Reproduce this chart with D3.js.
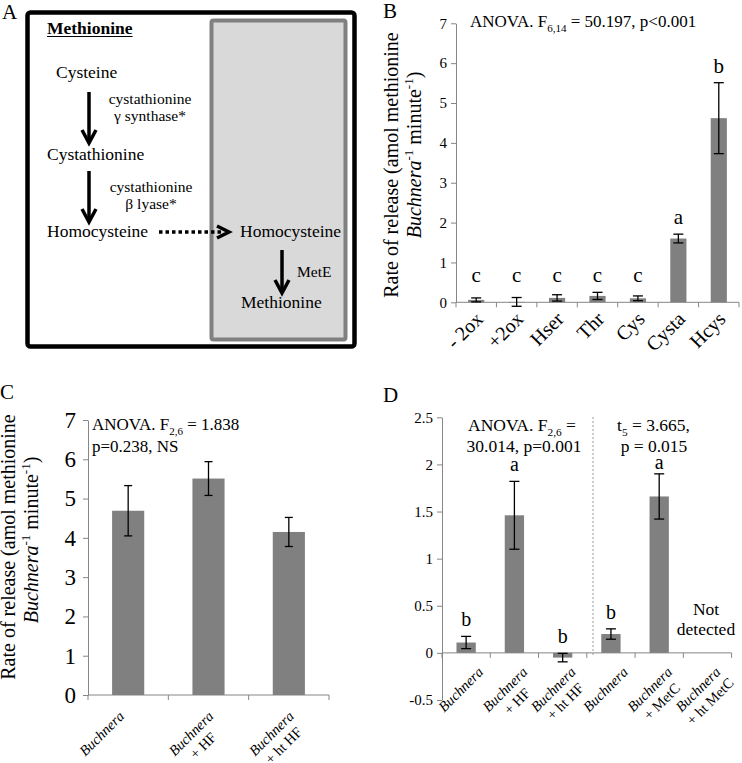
<!DOCTYPE html>
<html><head><meta charset="utf-8">
<script src="https://cdn.jsdelivr.net/npm/d3@7"></script>
<style>
html,body{margin:0;padding:0;background:#fff;}
svg{display:block;}
text{font-family:"Liberation Serif","Times New Roman",serif;}
</style></head>
<body>
<svg id="fig" width="742" height="763"></svg>
<script>
// ---------- DATA ----------
const catsB = [["- 2ox"], ["+2ox"], ["Hser"], ["Thr"], ["Cys"], ["Cysta"], ["Hcys"]];
const valsB = [0.06, 0.01, 0.11, 0.16, 0.10, 1.60, 4.62];
const errsB = [0.05, 0.11, 0.08, 0.09, 0.06, 0.11, 0.89];
const lettersB = ["c", "c", "c", "c", "c", "a", "b"];
const ticksB = [0, 1, 2, 3, 4, 5, 6, 7];

const catsC = [["Buchnera"], ["Buchnera", "+ HF"], ["Buchnera", "+ ht HF"]];
const valsC = [4.69, 5.51, 4.15];
const errsC = [0.64, 0.43, 0.37];
const ticksC = [0, 1, 2, 3, 4, 5, 6, 7];

const catsD = [["Buchnera"], ["Buchnera", "+ HF"], ["Buchnera", "+ ht HF"], ["Buchnera"], ["Buchnera", "+ MetC"], ["Buchnera", "+ ht MetC"]];
const valsD = [0.11, 1.46, -0.05, 0.20, 1.66, null];
const errsD = [0.065, 0.36, 0.045, 0.055, 0.24, null];
const lettersD = ["b", "a", "b", "b", "a", ""];
const ticksD = [-0.5, 0, 0.5, 1, 1.5, 2, 2.5];

// ---------- HELPERS ----------
const svg = d3.select("#fig");
svg.append("rect").attr("width", 742).attr("height", 763).attr("fill", "#fff");
const AX = "#868686", BAR = "#808080";

function rich(t, parts, fs) {
  let shift = 0;
  parts.forEach(p => {
    const ts = t.append("tspan").text(p.t);
    const target = p.sup ? -0.38 * fs : (p.sub ? 0.28 * fs : 0);
    ts.attr("dy", target - shift); shift = target;
    if (p.sup || p.sub) ts.attr("font-size", fs * 0.65);
    if (p.i) ts.attr("font-style", "italic");
  });
  return t;
}
function txt(x, y, s, fs, opts = {}) {
  const t = svg.append("text").attr("x", x).attr("y", y).attr("font-size", fs)
    .attr("fill", "#000").attr("text-anchor", opts.anchor || "start");
  if (opts.bold) t.attr("font-weight", "bold");
  if (typeof s === "string") t.text(s); else rich(t, s, fs);
  return t;
}

// ---------- PANEL A ----------
svg.append("rect").attr("x", 27.5).attr("y", 12.5).attr("width", 327).attr("height", 334)
  .attr("rx", 3).attr("fill", "none").attr("stroke", "#000").attr("stroke-width", 4.5);
svg.append("rect").attr("x", 211.5).attr("y", 20.5).attr("width", 134).attr("height", 319)
  .attr("rx", 2).attr("fill", "#d9d9d9").attr("stroke", "#808080").attr("stroke-width", 4);
txt(2, 19, "A", 21);
const met = txt(47, 34, "Methionine", 17.5, {bold: true});
const mw = met.node().getComputedTextLength();
svg.append("line").attr("x1", 47).attr("x2", 47 + mw).attr("y1", 36.5).attr("y2", 36.5)
  .attr("stroke", "#000").attr("stroke-width", 1.2);
txt(56, 78, "Cysteine", 17.5);
txt(150, 104, "cystathionine", 15.5, {anchor: "middle"});
txt(150, 121, "γ synthase*", 15.5, {anchor: "middle"});
txt(47, 160, "Cystathionine", 17.5);
txt(151, 192, "cystathionine", 15.5, {anchor: "middle"});
txt(151, 209, "β lyase*", 15.5, {anchor: "middle"});
txt(47, 237, "Homocysteine", 17.5);
txt(240, 237, "Homocysteine", 17.5);
txt(297, 277, "MetE", 15.5);
txt(241, 308, "Methionine", 17.5);

function downArrow(x, y1, y2) {
  svg.append("line").attr("x1", x).attr("x2", x).attr("y1", y1).attr("y2", y2 - 2)
    .attr("stroke", "#000").attr("stroke-width", 3.5);
  svg.append("path").attr("d", `M${x - 7},${y2 - 13}L${x},${y2}L${x + 7},${y2 - 13}`)
    .attr("fill", "none").attr("stroke", "#000").attr("stroke-width", 3.5);
}
downArrow(89, 92, 143);
downArrow(89, 171, 222);
downArrow(282, 250, 293);
svg.append("line").attr("x1", 159).attr("x2", 224).attr("y1", 232).attr("y2", 232)
  .attr("stroke", "#000").attr("stroke-width", 3.5).attr("stroke-dasharray", "3.5,3");
svg.append("path").attr("d", "M217,226L229,232L217,238")
  .attr("fill", "none").attr("stroke", "#000").attr("stroke-width", 3.5);

// ---------- GENERIC BAR PANEL ----------
function barPanel(c) {
  const n = c.cats.length;
  const g = svg.append("g");
  const x = d3.scaleBand().domain(d3.range(n)).range([c.x0, c.x1]).paddingInner(0).paddingOuter(0);
  const y = d3.scaleLinear().domain(c.domain).range([c.yb, c.yt]);
  const ya = g.append("g").attr("transform", `translate(${c.x0},0)`)
    .call(d3.axisLeft(y).tickValues(c.ticks).tickSize(5).tickSizeOuter(0).tickPadding(c.tickPad)
      .tickFormat(d => String(d)));
  ya.select(".domain").attr("stroke", AX);
  ya.selectAll(".tick line").attr("stroke", AX);
  ya.selectAll(".tick text").attr("font-size", c.tickFs).attr("fill", "#000");
  const y0 = y(0);
  g.append("line").attr("x1", c.x0).attr("x2", c.x1).attr("y1", y0).attr("y2", y0).attr("stroke", AX);
  g.selectAll(".xt").data(d3.range(n + 1)).join("line")
    .attr("x1", i => c.x0 + i * x.step()).attr("x2", i => c.x0 + i * x.step())
    .attr("y1", y0).attr("y2", y0 + 5).attr("stroke", AX);
  const bw = x.bandwidth() * 0.4;
  const idx = d3.range(n).filter(i => c.vals[i] != null);
  g.selectAll(".bar").data(idx).join("rect")
    .attr("x", i => x(i) + x.bandwidth() / 2 - bw / 2).attr("width", bw)
    .attr("y", i => Math.min(y(c.vals[i]), y0)).attr("height", i => Math.abs(y(c.vals[i]) - y0))
    .attr("fill", BAR);
  idx.forEach(i => {
    const cx = x(i) + x.bandwidth() / 2, v = c.vals[i], e = c.errs[i];
    const ep = g.append("g").attr("stroke", "#000").attr("stroke-width", 1.3);
    ep.append("line").attr("x1", cx).attr("x2", cx).attr("y1", y(v + e)).attr("y2", y(v - e));
    [v + e, v - e].forEach(w => ep.append("line").attr("x1", cx - c.cap / 2).attr("x2", cx + c.cap / 2)
      .attr("y1", y(w)).attr("y2", y(w)));
  });
  if (c.letters) {
    idx.forEach(i => {
      if (!c.letters[i]) return;
      let top = c.vals[i] + c.errs[i];
      if (c.groupLetters) idx.forEach(j => { if (c.letters[j] === c.letters[i]) top = Math.max(top, c.vals[j] + c.errs[j]); });
      let by = y(top) - c.letterGap;
      if (c.letterMinY != null) by = Math.max(by, c.letterMinY);
      g.append("text").attr("x", x(i) + x.bandwidth() / 2).attr("y", by)
        .attr("text-anchor", "middle").attr("font-size", c.letterFs).text(c.letters[i]);
    });
  }
  c.cats.forEach((lines, i) => {
    const cx = x(i) + x.bandwidth() / 2;
    const dx = lines.length > 1 ? c.lblDx2 : c.lblDx1;
    const lg = g.append("g").attr("transform", `translate(${cx + dx},${y0 + c.lblDy}) rotate(-45)`);
    const t1 = lg.append("text").attr("text-anchor", "end").attr("font-size", c.lblFs).text(lines[0]);
    if (c.italicFirst) t1.attr("font-style", "italic");
    if (lines.length > 1) {
      const w1 = t1.node().getComputedTextLength();
      lg.append("text").attr("x", -w1 / 2).attr("y", c.lblGap).attr("text-anchor", "middle")
        .attr("font-size", c.lblFs).text(lines[1]);
    }
  });
  return {x, y};
}

function yLabel(xa, ya, xb, yb, fs) {
  svg.append("text").attr("transform", `translate(${xa},${ya}) rotate(-90)`).attr("text-anchor", "middle")
    .attr("font-size", fs).text("Rate of release (amol methionine");
  const t = svg.append("text").attr("transform", `translate(${xb},${yb}) rotate(-90)`).attr("text-anchor", "middle")
    .attr("font-size", fs);
  rich(t, [{t: "Buchnera", i: true}, {t: "-1", sup: true}, {t: " minute"}, {t: "-1", sup: true}, {t: ")"}], fs);
}

// ---------- PANEL B ----------
txt(383, 18, "B", 21);
barPanel({cats: catsB, vals: valsB, errs: errsB, letters: lettersB, ticks: ticksB, groupLetters: true,
  x0: 456, x1: 739, yb: 302.3, yt: 23.3, domain: [0, 7], tickFs: 15, tickPad: 4, cap: 10,
  letterFs: 21, letterGap: 10, lblFs: 20, lblDx1: 8, lblDx2: 8, lblDy: 18, lblGap: 20, italicFirst: false});
yLabel(398, 165, 421, 155, 20);
txt(470, 27, [{t: "ANOVA. F"}, {t: "6,14", sub: true}, {t: " = 50.197, p<0.001"}], 17);

// ---------- PANEL C ----------
txt(0, 399, "C", 21);
barPanel({cats: catsC, vals: valsC, errs: errsC, ticks: ticksC,
  x0: 88, x1: 329, yb: 695, yt: 420, domain: [0, 7], tickFs: 23, tickPad: 7, cap: 8,
  lblFs: 14.5, lblDx1: -3, lblDx2: 6, lblDy: 22, lblGap: 17, italicFirst: true});
yLabel(15, 547, 38, 540, 20);
txt(92, 430, [{t: "ANOVA. F"}, {t: "2,6", sub: true}, {t: " = 1.838"}], 17);
txt(92, 452, "p=0.238, NS", 17);

// ---------- PANEL D ----------
txt(383, 402, "D", 21);
barPanel({cats: catsD, vals: valsD, errs: errsD, letters: lettersD, ticks: ticksD, groupLetters: false,
  x0: 442, x1: 731.6, yb: 700, yt: 417.3, domain: [-0.5, 2.5], tickFs: 15, tickPad: 4, cap: 10,
  letterFs: 20, letterGap: 10, letterMinY: 469, lblFs: 14.5, lblDx1: 18, lblDx2: 14, lblDy: 20, lblGap: 17, italicFirst: true});
svg.append("line").attr("x1", 593).attr("x2", 593).attr("y1", 417).attr("y2", 656)
  .attr("stroke", "#9a9a9a").attr("stroke-width", 1).attr("stroke-dasharray", "2,2");
txt(522, 431, [{t: "ANOVA. F"}, {t: "2,6", sub: true}, {t: " ="}], 17.5, {anchor: "middle"});
txt(524, 452, "30.014, p=0.001", 17.5, {anchor: "middle"});
txt(653.5, 431, [{t: "t"}, {t: "5", sub: true}, {t: " = 3.665,"}], 17.5, {anchor: "middle"});
txt(654, 452, "p = 0.015", 17.5, {anchor: "middle"});
txt(706, 615, "Not", 17.5, {anchor: "middle"});
txt(706, 635, "detected", 17.5, {anchor: "middle"});
</script>
</body></html>
